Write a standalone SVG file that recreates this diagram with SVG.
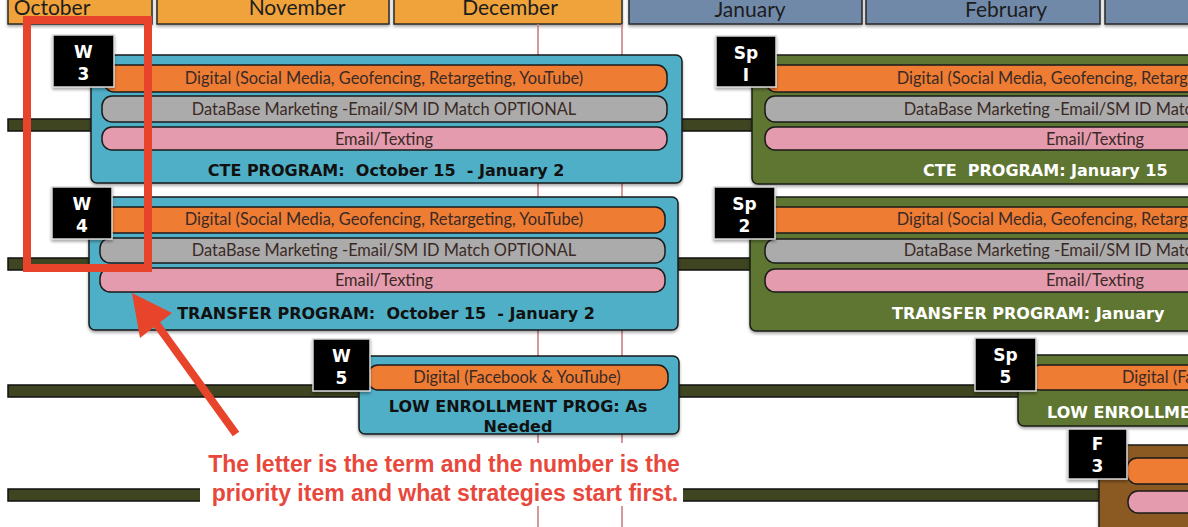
<svg xmlns="http://www.w3.org/2000/svg" width="1188" height="527" viewBox="0 0 1188 527">
<defs>
<style>
.month{stroke:#2a2a2a;stroke-width:1.5}
.mo{fill:#F0A33B}.mb{fill:#7189A9}
.mt{font-family:Lato,"Open Sans",sans-serif;font-size:21px;fill:#1d1d1d;text-anchor:middle}
.vline{stroke:#C9767A;stroke-width:1.5}
.tl{fill:#3F4520;stroke:#111;stroke-width:1.5}
.box{stroke:#1a1a1a;stroke-width:1.5}
.blue{fill:#4FAFC6}.green{fill:#5E7532}.brown{fill:#8A5A22}
.bar{stroke:#1a1a1a;stroke-width:1.5}
.or{fill:#EE7C33}.gr{fill:#ABABAB}.pk{fill:#E49BAD}
.bt{font-family:Lato,"Open Sans",sans-serif;font-size:16.4px;fill:#3a2a26;text-anchor:middle}
.lb{font-family:"DejaVu Sans",Verdana,sans-serif;font-size:16px;font-weight:bold;fill:#111;text-anchor:middle;white-space:pre}
.lw{font-family:"DejaVu Sans",Verdana,sans-serif;font-size:16px;font-weight:bold;fill:#fff;white-space:pre}
.term{fill:#000;stroke:#d8d8d8;stroke-width:1.5}
.tt{font-family:"DejaVu Sans",Verdana,sans-serif;font-size:17px;font-weight:bold;fill:#fff;text-anchor:middle}
.note{font-family:"Liberation Sans",Arial,sans-serif;font-size:23px;font-weight:bold;fill:#E8473B;text-anchor:middle}
</style>
<filter id="sh" x="-10%" y="-10%" width="130%" height="140%">
<feDropShadow dx="0" dy="2" stdDeviation="1.5" flood-color="#000" flood-opacity="0.35"/>
</filter>
</defs>
<rect width="1188" height="527" fill="#fff"/>

<g id="months" filter="url(#sh)">
<rect class="month mo" x="8" y="-6" width="144" height="30"/>
<rect class="month mo" x="157" y="-6" width="232" height="30"/>
<rect class="month mo" x="394" y="-6" width="228" height="30"/>
<rect class="month mb" x="629" y="-6" width="233" height="30"/>
<rect class="month mb" x="866" y="-6" width="234" height="30"/>
<rect class="month mb" x="1105" y="-6" width="100" height="30"/>
</g>
<g id="month-labels">
<text class="mt" x="52" y="15">October</text>
<text class="mt" x="297" y="15">November</text>
<text class="mt" x="510" y="15">December</text>
<text class="mt" x="750" y="17">January</text>
<text class="mt" x="1006" y="17">February</text>
</g>

<g id="gridlines">
<line class="vline" x1="538" y1="24" x2="538" y2="527"/>
<line class="vline" x1="622" y1="24" x2="622" y2="527"/>
</g>

<g id="connectors">
<rect class="tl" x="8" y="119" width="84" height="12"/>
<rect class="tl" x="681" y="119" width="72" height="12"/>
<rect class="tl" x="8" y="258" width="82" height="12"/>
<rect class="tl" x="677" y="258" width="74" height="12"/>
<rect class="tl" x="8" y="385" width="352" height="12"/>
<rect class="tl" x="678" y="385" width="341" height="12"/>
<rect class="tl" x="8" y="489" width="1092" height="12"/>
</g>

<g id="w3-cte">
<rect class="box blue" x="91" y="55" width="591" height="128" rx="6" filter="url(#sh)"/>
<rect class="bar or" x="104" y="65" width="563" height="27" rx="10"/>
<rect class="bar gr" x="102" y="96" width="565" height="26" rx="10"/>
<rect class="bar pk" x="102" y="127" width="565" height="23" rx="10"/>
<text class="bt" x="384" y="84">Digital (Social Media, Geofencing, Retargeting, YouTube)</text>
<text class="bt" x="384" y="115">DataBase Marketing -Email/SM ID Match OPTIONAL</text>
<text class="bt" x="384" y="145">Email/Texting</text>
<text class="lb" x="386" y="176">CTE PROGRAM:  October 15  - January 2</text>
<rect class="term" x="53" y="35" width="61" height="52" filter="url(#sh)"/>
<text class="tt" x="83.5" y="58">W</text>
<text class="tt" x="83.5" y="80">3</text>
</g>

<g id="w4-transfer">
<rect class="box blue" x="89" y="197" width="589" height="133" rx="6" filter="url(#sh)"/>
<rect class="bar or" x="104" y="207" width="561" height="26" rx="10"/>
<rect class="bar gr" x="100" y="238" width="565" height="25" rx="10"/>
<rect class="bar pk" x="100" y="268" width="565" height="24" rx="10"/>
<text class="bt" x="384" y="225">Digital (Social Media, Geofencing, Retargeting, YouTube)</text>
<text class="bt" x="384" y="256">DataBase Marketing -Email/SM ID Match OPTIONAL</text>
<text class="bt" x="384" y="286">Email/Texting</text>
<text class="lb" x="386" y="319">TRANSFER PROGRAM:  October 15  - January 2</text>
<rect class="term" x="52" y="187" width="60" height="52" filter="url(#sh)"/>
<text class="tt" x="82" y="210">W</text>
<text class="tt" x="82" y="232">4</text>
</g>

<g id="w5-low">
<rect class="box blue" x="359" y="356" width="320" height="78" rx="6" filter="url(#sh)"/>
<rect class="bar or" x="368" y="365" width="300" height="25" rx="10"/>
<text class="bt" x="517" y="383">Digital (Facebook &amp; YouTube)</text>
<text class="lb" x="518" y="412">LOW ENROLLMENT PROG: As</text>
<text class="lb" x="518" y="432">Needed</text>
<rect class="term" x="313" y="339" width="57" height="52" filter="url(#sh)"/>
<text class="tt" x="341.5" y="362">W</text>
<text class="tt" x="341.5" y="384">5</text>
</g>

<g id="sp1-cte">
<rect class="box green" x="752" y="55" width="460" height="129" rx="6" filter="url(#sh)"/>
<rect class="bar or" x="766" y="65" width="446" height="27" rx="10"/>
<rect class="bar gr" x="765" y="96" width="447" height="26" rx="10"/>
<rect class="bar pk" x="765" y="127" width="447" height="23" rx="10"/>
<text class="bt" x="1096" y="84">Digital (Social Media, Geofencing, Retargeting, YouTube)</text>
<text class="bt" x="1096" y="115">DataBase Marketing -Email/SM ID Match OPTIONAL</text>
<text class="bt" x="1095" y="145">Email/Texting</text>
<text class="lw" x="923" y="176">CTE  PROGRAM: January 15</text>
<rect class="term" x="716" y="36" width="60" height="51" filter="url(#sh)"/>
<text class="tt" x="746" y="59">Sp</text>
<text class="tt" x="746" y="81">I</text>
</g>

<g id="sp2-transfer">
<rect class="box green" x="750" y="197" width="460" height="134" rx="6" filter="url(#sh)"/>
<rect class="bar or" x="766" y="207" width="446" height="26" rx="10"/>
<rect class="bar gr" x="765" y="239" width="447" height="24" rx="10"/>
<rect class="bar pk" x="765" y="269" width="447" height="23" rx="10"/>
<text class="bt" x="1096" y="225">Digital (Social Media, Geofencing, Retargeting, YouTube)</text>
<text class="bt" x="1096" y="256">DataBase Marketing -Email/SM ID Match OPTIONAL</text>
<text class="bt" x="1095" y="286">Email/Texting</text>
<text class="lw" x="892" y="319">TRANSFER PROGRAM: January</text>
<rect class="term" x="714" y="187" width="61" height="52" filter="url(#sh)"/>
<text class="tt" x="744.5" y="210">Sp</text>
<text class="tt" x="744.5" y="232">2</text>
</g>

<g id="sp5-low">
<rect class="box green" x="1018" y="355" width="200" height="71" rx="6" filter="url(#sh)"/>
<rect class="bar or" x="1030" y="365" width="182" height="25" rx="10"/>
<text class="bt" x="1122" y="383" style="text-anchor:start">Digital (Facebook &amp; YouTube)</text>
<text class="lw" x="1047" y="418">LOW ENROLLMENT</text>
<rect class="term" x="975" y="338" width="61" height="53" filter="url(#sh)"/>
<text class="tt" x="1005.5" y="361">Sp</text>
<text class="tt" x="1005.5" y="383">5</text>
</g>

<g id="f3">
<rect class="box brown" x="1099" y="445" width="100" height="95" rx="6" filter="url(#sh)"/>
<rect class="bar or" x="1127" y="458" width="80" height="26" rx="10"/>
<rect class="bar pk" x="1128" y="491" width="80" height="22" rx="10"/>
<rect class="term" x="1068" y="429" width="59" height="50" filter="url(#sh)"/>
<text class="tt" x="1097.5" y="450">F</text>
<text class="tt" x="1097.5" y="472">3</text>
</g>

<g id="annotation">
<rect x="27" y="20" width="121" height="248" fill="none" stroke="#E8432B" stroke-width="8"/>
<line x1="236" y1="434" x2="150" y2="315" stroke="#E8432B" stroke-width="8"/>
<polygon points="132,293 140,338 172,313" fill="#E8432B"/>
<rect x="200" y="443" width="483" height="63" fill="#fff"/>
<text class="note" x="444" y="472">The letter is the term and the number is the</text>
<text class="note" x="445" y="501">priority item and what strategies start first.</text>
</g>
</svg>
